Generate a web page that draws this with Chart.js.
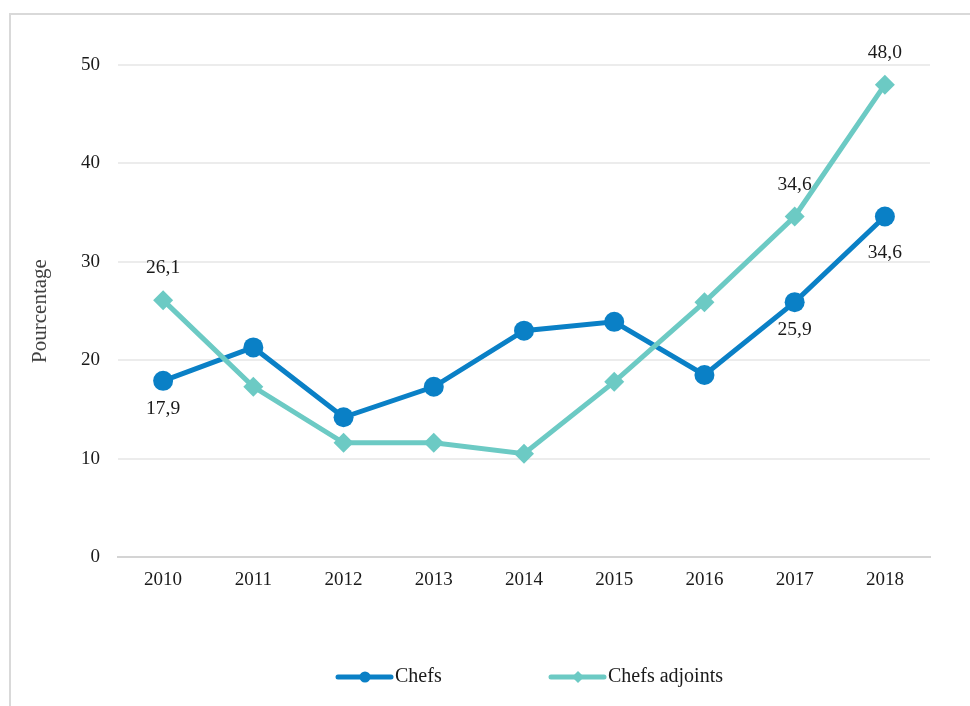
<!DOCTYPE html>
<html>
<head>
<meta charset="utf-8">
<script src="https://cdn.jsdelivr.net/npm/chart.js@4.4.1/dist/chart.umd.min.js"></script>
<style>
  html, body { margin: 0; padding: 0; background: #ffffff; }
  #wrap { width: 970px; height: 706px; position: relative; }
</style>
</head>
<body>
<div id="wrap"><canvas id="chart" width="970" height="706"></canvas></div>
<script>
// Années observées
const years = ['2010', '2011', '2012', '2013', '2014', '2015', '2016', '2017', '2018'];

// Pourcentages par série
const chefs = [17.9, 21.3, 14.2, 17.3, 23.0, 23.9, 18.5, 25.9, 34.6];
const chefsAdjoints = [26.1, 17.3, 11.6, 11.6, 10.5, 17.8, 25.9, 34.6, 48.0];

// Points annotés de leur valeur
const chefsLabeled = [0, 7, 8];
const adjointsLabeled = [0, 7, 8];

const yTicks = [0, 10, 20, 30, 40, 50];

const seriesNames = ['Chefs', 'Chefs adjoints'];
const colorChefs = '#0a80c6';
const colorAdj = '#6ccac4';
const textColor = '#1a1a1a';
const fontFamily = '"Liberation Serif", "Times New Roman", serif';

const fmt = v => v.toFixed(1).replace('.', ',');

// Cadre gris autour du graphique
const framePlugin = {
  id: 'frame',
  beforeDraw(chart) {
    const ctx = chart.ctx;
    ctx.save();
    ctx.fillStyle = '#ffffff';
    ctx.fillRect(0, 0, chart.width, chart.height);
    ctx.strokeStyle = '#d9d9d9';
    ctx.lineWidth = 2;
    ctx.beginPath();
    ctx.moveTo(10, chart.height + 2);
    ctx.lineTo(10, 14);
    ctx.lineTo(chart.width + 2, 14);
    ctx.stroke();
    ctx.restore();
  }
};

// Étiquettes de valeur au-dessus / au-dessous des points
const valueLabels = {
  id: 'valueLabels',
  afterDatasetsDraw(chart) {
    const ctx = chart.ctx;
    ctx.save();
    ctx.font = '19.5px ' + fontFamily;
    ctx.fillStyle = textColor;
    ctx.textAlign = 'center';
    ctx.textBaseline = 'middle';
    const specs = [
      { ds: 0, idx: chefsLabeled, data: chefs, dy: 28 },
      { ds: 1, idx: adjointsLabeled, data: chefsAdjoints, dy: -32 }
    ];
    specs.forEach(s => {
      const meta = chart.getDatasetMeta(s.ds);
      s.idx.forEach(i => {
        const el = meta.data[i];
        let dy = s.dy;
        if (s.ds === 0 && i === 8) dy = 36;
        ctx.fillText(fmt(s.data[i]), el.x, el.y + dy);
      });
    });
    ctx.restore();
  }
};

// Légende : trait avec marqueur centré
const lineLegend = {
  id: 'lineLegend',
  afterDraw(chart) {
    const ctx = chart.ctx;
    const y = 677;
    const items = [
      { x: 338, color: colorChefs, shape: 'circle', text: seriesNames[0] },
      { x: 551, color: colorAdj, shape: 'diamond', text: seriesNames[1] }
    ];
    ctx.save();
    items.forEach(it => {
      ctx.strokeStyle = it.color;
      ctx.lineWidth = 5;
      ctx.lineCap = 'round';
      ctx.beginPath();
      ctx.moveTo(it.x, y);
      ctx.lineTo(it.x + 53, y);
      ctx.stroke();
      ctx.fillStyle = it.color;
      const cx = it.x + 27;
      ctx.beginPath();
      if (it.shape === 'circle') {
        ctx.arc(cx, y, 5.5, 0, Math.PI * 2);
      } else {
        ctx.moveTo(cx, y - 6);
        ctx.lineTo(cx + 6, y);
        ctx.lineTo(cx, y + 6);
        ctx.lineTo(cx - 6, y);
        ctx.closePath();
      }
      ctx.fill();
      ctx.fillStyle = textColor;
      ctx.font = '20px ' + fontFamily;
      ctx.textAlign = 'left';
      ctx.textBaseline = 'middle';
      ctx.fillText(it.text, it.x + 57, y);
    });
    ctx.restore();
  }
};

new Chart(document.getElementById('chart'), {
  type: 'line',
  data: {
    labels: years,
    datasets: [
      {
        label: seriesNames[0],
        data: chefs,
        borderColor: colorChefs,
        backgroundColor: colorChefs,
        borderWidth: 5,
        pointStyle: 'circle',
        pointRadius: 10,
        pointBorderWidth: 0,
        pointHoverRadius: 10,
        tension: 0,
        order: 2
      },
      {
        label: seriesNames[1],
        data: chefsAdjoints,
        borderColor: colorAdj,
        backgroundColor: colorAdj,
        borderWidth: 5,
        pointStyle: 'rectRot',
        pointRadius: 10,
        pointBorderWidth: 0,
        pointHoverRadius: 10,
        tension: 0,
        order: 1
      }
    ]
  },
  options: {
    responsive: false,
    animation: false,
    devicePixelRatio: 1,
    layout: { padding: { top: 65, right: 40, left: 0, bottom: 0 } },
    plugins: {
      legend: { display: false },
      tooltip: { enabled: false }
    },
    scales: {
      x: {
        offset: true,
        grid: { display: false, drawTicks: false },
        border: { display: true, color: '#d4d4d4', width: 2 },
        ticks: {
          color: textColor,
          font: { family: fontFamily, size: 19 },
          padding: 12,
          maxRotation: 0
        },
        afterFit(scale) { scale.height = 149; }
      },
      y: {
        min: 0,
        max: 50,
        afterBuildTicks(scale) { scale.ticks = yTicks.map(v => ({ value: v })); },
        grid: {
          color: ctx => ctx.tick && ctx.tick.value === 0 ? 'rgba(0,0,0,0)' : '#ececec',
          lineWidth: 2,
          drawTicks: false
        },
        border: { display: false },
        ticks: {
          color: textColor,
          font: { family: fontFamily, size: 19 },
          padding: 18
        },
        title: {
          display: true,
          text: 'Pourcentage',
          color: '#404040',
          font: { family: fontFamily, size: 21 },
          padding: { top: 28, bottom: 0 }
        },
        afterFit(scale) { scale.width = 118; }
      }
    }
  },
  plugins: [framePlugin, valueLabels, lineLegend]
});
</script>
</body>
</html>
